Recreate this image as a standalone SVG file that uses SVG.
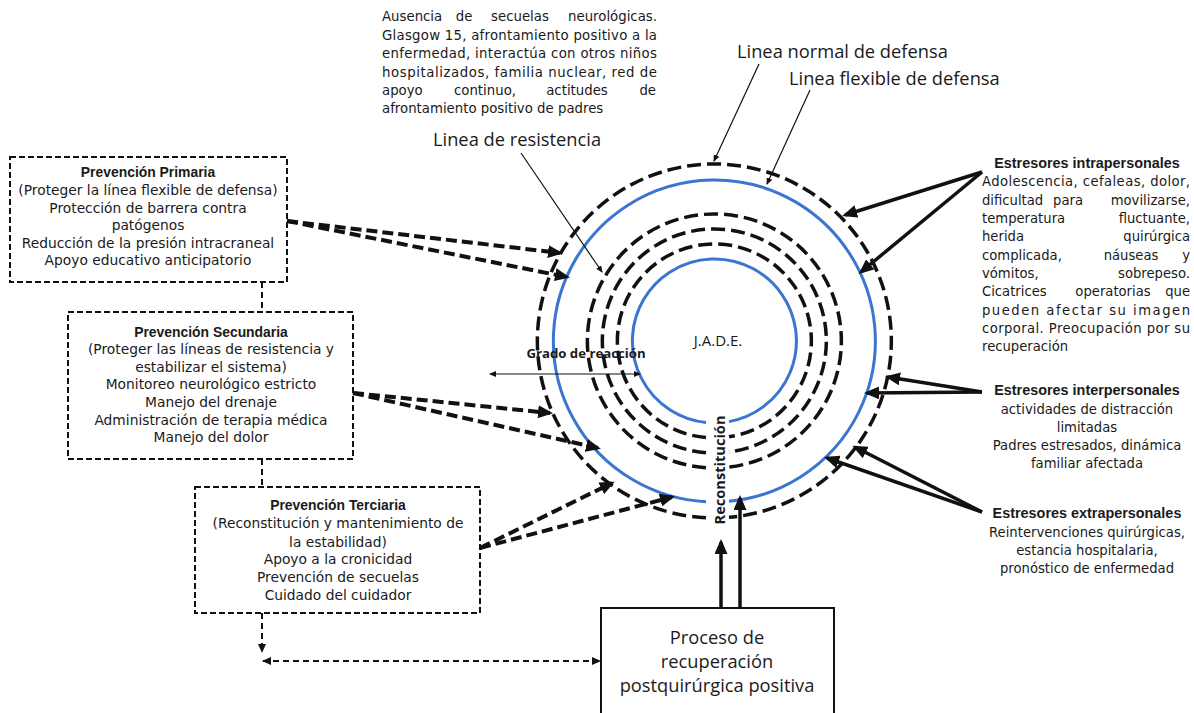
<svg xmlns="http://www.w3.org/2000/svg" width="1194" height="713" viewBox="0 0 1194 713">
<style>
text{font-family:"Open Sans","Liberation Sans",sans-serif;fill:#1a1a1a}
.dj text{font-family:"DejaVu Sans","Open Sans",sans-serif}
.tl{font-size:13.8px}
.tr{font-size:13.2px}
.tt{font-size:13.3px}
text.bt,.dj text.bt{font-family:"Liberation Sans","Open Sans",sans-serif;font-weight:700}
.b{font-weight:700}
.big{font-size:18.3px}
.mid{text-anchor:middle}
.end{text-anchor:end}
.box{fill:#fff;stroke:#111;stroke-width:2;stroke-dasharray:6 3}
.ring{fill:none;stroke:#111;stroke-width:3.5;stroke-dasharray:14 6}
.blue{fill:none;stroke:#3a76d0;stroke-width:3}
.darr{fill:none;stroke:#111;stroke-width:4;stroke-dasharray:11 5;marker-end:url(#ah)}
.sarr{fill:none;stroke:#111;stroke-width:3.5;marker-end:url(#ah)}
.lead{fill:none;stroke:#111;stroke-width:1.2;marker-end:url(#ahs)}
.conn{fill:none;stroke:#111;stroke-width:2;stroke-dasharray:6 4}
</style>
<defs>
<marker id="ah" viewBox="0 0 15 13" refX="12" refY="6.5" markerWidth="15" markerHeight="13" markerUnits="userSpaceOnUse" orient="auto"><path d="M0,0 L15,6.5 L0,13 Z" fill="#111"/></marker>
<marker id="ahs" viewBox="0 0 7 6" refX="6" refY="3" markerWidth="7" markerHeight="6" markerUnits="userSpaceOnUse" orient="auto-start-reverse"><path d="M0,0 L7,3 L0,6 Z" fill="#111"/></marker>
<marker id="ahm" viewBox="0 0 9 8" refX="8" refY="4" markerWidth="9" markerHeight="8" markerUnits="userSpaceOnUse" orient="auto-start-reverse"><path d="M0,0 L9,4 L0,8 Z" fill="#111"/></marker>
</defs>
<rect width="1194" height="713" fill="#fff"/>

<!-- central system rings -->
<g id="system">
<path class="ring" d="M706,517.77 A177,177 0 1 1 729,517.36"/>
<path class="blue" d="M706,501.75 A161,161 0 1 1 729,501.30"/>
<path class="ring" d="M706,467.68 A127,127 0 1 1 729,467.11"/>
<path class="ring" d="M706,452.64 A112,112 0 1 1 729,451.99"/>
<path class="ring" d="M706,437.58 A97,97 0 1 1 729,436.83"/>
<path class="blue" d="M706,422.50 A82,82 0 1 1 729,421.62"/>
<text class="mid" x="718" y="346" style="font-size:15px">J.A.D.E.</text>
<text class="b mid" x="0" y="0" transform="translate(725,470) rotate(-90)" style="font-size:14.6px">Reconstitución</text>
</g>

<g id="labels">
<text class="big" x="737" y="58">Linea normal de defensa</text>
<text class="big" x="789" y="85">Linea flexible de defensa</text>
<text class="big" x="433" y="146">Linea de resistencia</text>
<text class="b mid" x="586" y="358" style="font-size:13.2px">Grado de reacción</text>
</g>

<g id="top-text" class="dj tt">
<text x="382" y="21">Ausencia</text>
<text class="mid" x="464" y="21">de</text>
<text class="mid" x="520" y="21">secuelas</text>
<text class="end" x="657" y="21">neurológicas.</text>
<text x="382" y="40" textLength="275" lengthAdjust="spacing">Glasgow 15, afrontamiento positivo a la</text>
<text x="382" y="58" textLength="275" lengthAdjust="spacing">enfermedad, interactúa con otros niños</text>
<text x="382" y="77" textLength="275" lengthAdjust="spacing">hospitalizados, familia nuclear, red de</text>
<text x="382" y="95">apoyo</text>
<text class="mid" x="485" y="95">continuo,</text>
<text class="mid" x="577" y="95">actitudes</text>
<text class="end" x="656" y="95">de</text>
<text x="382" y="113">afrontamiento positivo de padres</text>
</g>

<g id="prevencion-primaria" class="dj tl">
<rect class="box" x="10" y="157" width="277" height="125"/>
<text class="bt mid" x="148" y="177" style="font-size:13.9px">Prevención Primaria</text>
<text class="mid" x="148" y="195">(Proteger la línea flexible de defensa)</text>
<text class="mid" x="148" y="213">Protección de barrera contra</text>
<text class="mid" x="148" y="230">patógenos</text>
<text class="mid" x="148" y="248">Reducción de la presión intracraneal</text>
<text class="mid" x="148" y="265">Apoyo educativo anticipatorio</text>
</g>

<g id="prevencion-secundaria" class="dj tl">
<rect class="box" x="68" y="312" width="285" height="147"/>
<text class="bt mid" x="211" y="337" style="font-size:13.9px">Prevención Secundaria</text>
<text class="mid" x="211" y="354">(Proteger las líneas de resistencia y</text>
<text class="mid" x="211" y="372">estabilizar el sistema)</text>
<text class="mid" x="211" y="389">Monitoreo neurológico estricto</text>
<text class="mid" x="211" y="407">Manejo del drenaje</text>
<text class="mid" x="211" y="425">Administración de terapia médica</text>
<text class="mid" x="211" y="442">Manejo del dolor</text>
</g>

<g id="prevencion-terciaria" class="dj tl">
<rect class="box" x="195" y="487" width="285" height="126"/>
<text class="bt mid" x="338" y="510" style="font-size:13.9px">Prevención Terciaria</text>
<text class="mid" x="338" y="528">(Reconstitución y mantenimiento de</text>
<text class="mid" x="338" y="547">la estabilidad)</text>
<text class="mid" x="338" y="564">Apoyo a la cronicidad</text>
<text class="mid" x="338" y="582">Prevención de secuelas</text>
<text class="mid" x="338" y="600">Cuidado del cuidador</text>
</g>

<g id="proceso">
<rect x="601" y="608" width="233" height="120" fill="#fff" stroke="#111" stroke-width="2"/>
<text class="big mid" x="717" y="644">Proceso de</text>
<text class="big mid" x="717" y="668">recuperación</text>
<text class="big mid" x="717" y="692">postquirúrgica positiva</text>
</g>

<g id="estresores-intra" class="dj tr">
<text class="bt mid" x="1087" y="168" style="font-size:14.4px">Estresores intrapersonales</text>
<text x="982" y="186" textLength="208" lengthAdjust="spacing">Adolescencia, cefaleas, dolor,</text>
<text x="982" y="204.5">dificultad</text>
<text class="mid" x="1068" y="204.5">para</text>
<text class="end" x="1190" y="204.5">movilizarse,</text>
<text x="982" y="223">temperatura</text>
<text class="end" x="1190" y="223">fluctuante,</text>
<text x="982" y="241">herida</text>
<text class="end" x="1190" y="241">quirúrgica</text>
<text x="982" y="259.5">complicada,</text>
<text class="mid" x="1131" y="259.5">náuseas</text>
<text class="end" x="1190" y="259.5">y</text>
<text x="982" y="278">vómitos,</text>
<text class="end" x="1190" y="278">sobrepeso.</text>
<text x="982" y="296">Cicatrices</text>
<text class="mid" x="1113" y="296">operatorias</text>
<text class="end" x="1190" y="296">que</text>
<text x="982" y="314.5" textLength="208" lengthAdjust="spacing">pueden afectar su imagen</text>
<text x="982" y="333" textLength="208" lengthAdjust="spacing">corporal. Preocupación por su</text>
<text x="982" y="351">recuperación</text>
</g>

<g id="estresores-inter" class="dj tr">
<text class="bt mid" x="1087" y="395" style="font-size:14.4px">Estresores interpersonales</text>
<text class="mid" x="1087" y="414">actividades de distracción</text>
<text class="mid" x="1087" y="432">limitadas</text>
<text class="mid" x="1087" y="450">Padres estresados, dinámica</text>
<text class="mid" x="1087" y="468">familiar afectada</text>
</g>

<g id="estresores-extra" class="dj tr">
<text class="bt mid" x="1087" y="518" style="font-size:14.4px">Estresores extrapersonales</text>
<text class="mid" x="1087" y="537">Reintervenciones quirúrgicas,</text>
<text class="mid" x="1087" y="555">estancia hospitalaria,</text>
<text class="mid" x="1087" y="573">pronóstico de enfermedad</text>
</g>

<g id="connectors">
<line class="lead" x1="759" y1="64" x2="714" y2="161"/>
<line class="lead" x1="810" y1="90" x2="767" y2="184"/>
<line class="lead" x1="521" y1="153" x2="602" y2="272"/>
<line x1="490" y1="374" x2="640" y2="374" stroke="#111" stroke-width="1.2" marker-start="url(#ahs)" marker-end="url(#ahs)"/>
<line class="conn" x1="262" y1="282" x2="262" y2="312"/>
<line class="conn" x1="262" y1="459" x2="262" y2="487"/>
<line class="conn" x1="262" y1="613" x2="262" y2="652" marker-end="url(#ahm)"/>
<line class="conn" x1="263" y1="661" x2="600" y2="661" marker-start="url(#ahm)" marker-end="url(#ahm)"/>
<line class="darr" x1="287" y1="221" x2="560" y2="253"/>
<line class="darr" x1="287" y1="221" x2="567" y2="277"/>
<line class="darr" x1="353" y1="393" x2="550" y2="413"/>
<line class="darr" x1="353" y1="393" x2="598" y2="448"/>
<line class="darr" x1="480" y1="548" x2="612" y2="483"/>
<line class="darr" x1="480" y1="548" x2="672" y2="497"/>
<line class="sarr" x1="982" y1="172" x2="845" y2="215"/>
<line class="sarr" x1="982" y1="172" x2="861" y2="272"/>
<line class="sarr" x1="982" y1="392" x2="888" y2="377"/>
<line class="sarr" x1="982" y1="392" x2="867" y2="393"/>
<line class="sarr" x1="982" y1="512" x2="855" y2="447"/>
<line class="sarr" x1="982" y1="512" x2="827" y2="458"/>
<line class="sarr" x1="721" y1="608" x2="721" y2="542"/>
<line class="sarr" x1="740" y1="608" x2="740" y2="498"/>
</g>
</svg>
